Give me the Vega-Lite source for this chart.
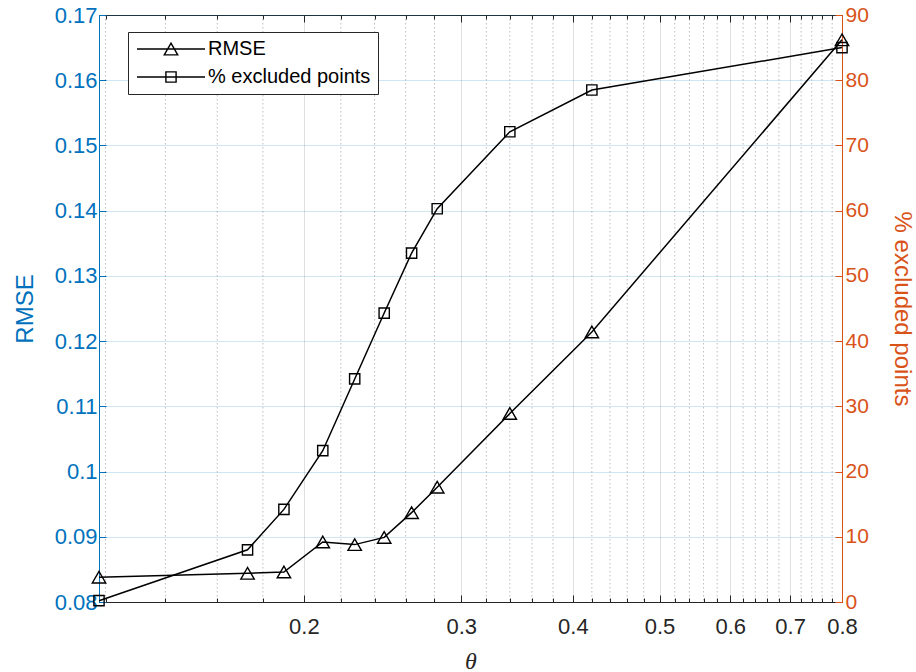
{
  "$schema": "https://vega.github.io/schema/vega-lite/v6.json",
  "width": 743,
  "height": 587,
  "autosize": {"type": "none"},
  "padding": {"left": 99, "top": 15, "right": 74, "bottom": 70},
  "background": "white",
  "config": {
    "view": {"stroke": "#262626", "strokeWidth": 1},
    "font": "Liberation Sans",
    "axis": {
      "labelFont": "Liberation Sans",
      "labelFontSize": 22,
      "titleFont": "Liberation Sans",
      "titleFontSize": 24,
      "titleFontWeight": "normal",
      "labelColor": "#262626",
      "tickColor": "#262626",
      "domainColor": "#262626",
      "tickWidth": 1,
      "domainWidth": 1,
      "labelFlush": false,
      "labelOverlap": false,
      "labelBound": false
    }
  },
  "datasets": {
    "main": [
      {"theta": 0.118, "rmse": 0.0838, "pct": 0.2},
      {"theta": 0.173, "rmse": 0.0844, "pct": 8.0},
      {"theta": 0.19, "rmse": 0.0846, "pct": 14.2},
      {"theta": 0.21, "rmse": 0.0892, "pct": 23.2},
      {"theta": 0.228, "rmse": 0.0888, "pct": 34.2},
      {"theta": 0.246, "rmse": 0.0899, "pct": 44.3},
      {"theta": 0.264, "rmse": 0.0937, "pct": 53.5},
      {"theta": 0.282, "rmse": 0.0976, "pct": 60.3},
      {"theta": 0.34, "rmse": 0.1089, "pct": 72.1},
      {"theta": 0.42, "rmse": 0.1214, "pct": 78.5},
      {"theta": 0.8, "rmse": 0.1662, "pct": 85.0}
    ],
    "minor": [
      {"t": 0.12}, {"t": 0.14}, {"t": 0.16}, {"t": 0.18},
      {"t": 0.22}, {"t": 0.24}, {"t": 0.26}, {"t": 0.28},
      {"t": 0.32}, {"t": 0.34}, {"t": 0.36}, {"t": 0.38},
      {"t": 0.42}, {"t": 0.44}, {"t": 0.46}, {"t": 0.48},
      {"t": 0.52}, {"t": 0.54}, {"t": 0.56}, {"t": 0.58},
      {"t": 0.62}, {"t": 0.64}, {"t": 0.66}, {"t": 0.68},
      {"t": 0.72}, {"t": 0.74}, {"t": 0.76}, {"t": 0.78}
    ],
    "legend": [
      {"theta": 0.5, "series": "RMSE"},
      {"theta": 0.5, "series": "% excluded points"}
    ]
  },
  "layer": [
    {
      "data": {"name": "minor"},
      "mark": {"type": "rule", "strokeDash": [1.5, 2.5], "color": "#262626", "opacity": 0.3, "strokeWidth": 1},
      "encoding": {
        "x": {
          "field": "t",
          "type": "quantitative",
          "scale": {"type": "log", "domain": [0.118, 0.8], "nice": false},
          "axis": {
            "orient": "bottom",
            "values": [0.2, 0.3, 0.4, 0.5, 0.6, 0.7, 0.8],
            "format": ".1~f",
            "grid": true,
            "gridColor": "#262626",
            "gridOpacity": 0.15,
            "gridWidth": 1,
            "tickSize": -7,
            "labelPadding": 21,
            "title": "θ",
            "titleFont": "Liberation Serif",
            "titleFontStyle": "italic",
            "titleFontSize": 24,
            "titleColor": "#262626",
            "titlePadding": 12
          }
        }
      }
    },
    {
      "data": {"name": "main"},
      "encoding": {
        "x": {
          "field": "theta",
          "type": "quantitative",
          "scale": {"type": "log", "domain": [0.118, 0.8], "nice": false},
          "axis": {
            "orient": "top",
            "values": [0.2, 0.3, 0.4, 0.5, 0.6, 0.7, 0.8],
            "labels": false,
            "grid": false,
            "domain": false,
            "tickSize": -7,
            "title": null
          }
        },
        "y": {
          "field": "rmse",
          "type": "quantitative",
          "scale": {"domain": [0.08, 0.17], "nice": false, "zero": false},
          "axis": {
            "orient": "left",
            "values": [0.08, 0.09, 0.1, 0.11, 0.12, 0.13, 0.14, 0.15, 0.16, 0.17],
            "format": ".2~f",
            "grid": true,
            "gridColor": "#0072BD",
            "gridOpacity": 0.18,
            "gridWidth": 1,
            "tickSize": -7,
            "tickColor": "#0072BD",
            "domainColor": "#0072BD",
            "labelColor": "#0072BD",
            "labelPadding": 9,
            "title": "RMSE",
            "titleColor": "#0072BD",
            "titlePadding": 17
          }
        }
      },
      "layer": [
        {"mark": {"type": "line", "color": "black", "strokeWidth": 1.5}},
        {"mark": {"type": "point", "shape": "triangle-up", "filled": false, "size": 180, "strokeWidth": 1.4, "color": "black", "opacity": 1}}
      ]
    },
    {
      "data": {"name": "main"},
      "encoding": {
        "x": {
          "field": "theta",
          "type": "quantitative",
          "scale": {"type": "log", "domain": [0.118, 0.8], "nice": false},
          "axis": {
            "orient": "bottom",
            "values": [0.12, 0.14, 0.16, 0.18, 0.22, 0.24, 0.26, 0.28, 0.32, 0.34, 0.36, 0.38, 0.42, 0.44, 0.46, 0.48, 0.52, 0.54, 0.56, 0.58, 0.62, 0.64, 0.66, 0.68, 0.72, 0.74, 0.76, 0.78],
            "labels": false,
            "grid": false,
            "domain": false,
            "tickSize": -4,
            "title": null
          }
        },
        "y": {
          "field": "pct",
          "type": "quantitative",
          "scale": {"domain": [0, 90], "nice": false, "zero": false},
          "axis": {
            "orient": "right",
            "values": [0, 10, 20, 30, 40, 50, 60, 70, 80, 90],
            "format": "d",
            "grid": false,
            "tickSize": -7,
            "tickColor": "#D95319",
            "domainColor": "#D95319",
            "labelColor": "#D95319",
            "labelFontSize": 21,
            "labelPadding": 10,
            "title": "% excluded points",
            "titleColor": "#D95319",
            "titlePadding": 21
          }
        }
      },
      "layer": [
        {"mark": {"type": "line", "color": "black", "strokeWidth": 1.5}},
        {"mark": {"type": "point", "shape": "square", "filled": false, "size": 105, "strokeWidth": 1.4, "color": "black", "opacity": 1}}
      ]
    },
    {
      "data": {"name": "legend"},
      "transform": [{"filter": "false"}],
      "mark": {"type": "point", "filled": false, "size": 180, "strokeWidth": 1.4, "color": "black", "opacity": 1},
      "encoding": {
        "x": {
          "field": "theta",
          "type": "quantitative",
          "scale": {"type": "log", "domain": [0.118, 0.8], "nice": false},
          "axis": {
            "orient": "top",
            "values": [0.12, 0.14, 0.16, 0.18, 0.22, 0.24, 0.26, 0.28, 0.32, 0.34, 0.36, 0.38, 0.42, 0.44, 0.46, 0.48, 0.52, 0.54, 0.56, 0.58, 0.62, 0.64, 0.66, 0.68, 0.72, 0.74, 0.76, 0.78],
            "labels": false,
            "grid": false,
            "domain": false,
            "tickSize": -4,
            "title": null
          }
        },
        "shape": {
          "field": "series",
          "type": "nominal",
          "scale": {
            "domain": ["RMSE", "% excluded points"],
            "range": [
              "M-5.07,0H5.07M0,-0.87L1,0.87L-1,0.87Z",
              "M-5.07,0H5.07M-0.76,-0.76H0.76V0.76H-0.76Z"
            ]
          },
          "legend": {
            "title": null,
            "orient": "none",
            "legendX": 29,
            "legendY": 17,
            "direction": "vertical",
            "padding": 7,
            "strokeColor": "#262626",
            "fillColor": "white",
            "symbolSize": 180,
            "symbolStrokeWidth": 1.4,
            "symbolStrokeColor": "black",
            "symbolFillColor": "transparent",
            "symbolOpacity": 1,
            "symbolOffset": 26,
            "labelOffset": 27,
            "labelFont": "Liberation Sans",
            "labelFontSize": 20,
            "labelColor": "black",
            "rowPadding": 8,
            "labelLimit": 400
          }
        }
      }
    }
  ],
  "resolve": {
    "scale": {"y": "independent"},
    "axis": {"x": "independent", "y": "independent"}
  }
}
